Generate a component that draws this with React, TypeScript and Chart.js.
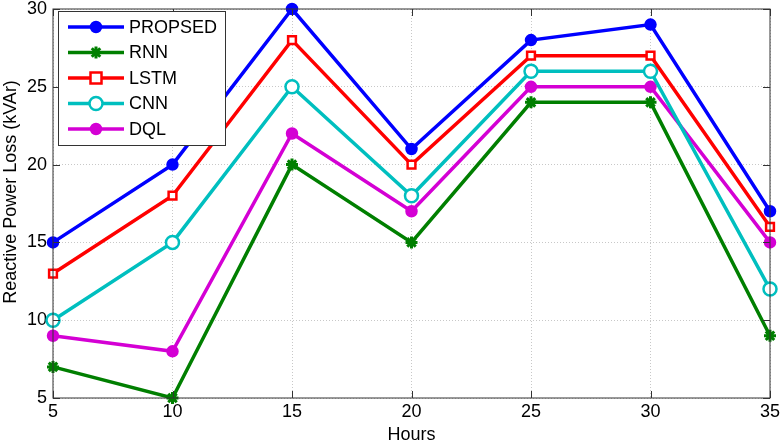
import { useEffect, useRef } from "react";
import { Chart, registerables } from "chart.js";
Chart.register(...registerables);

const hours = [5, 10, 15, 20, 25, 30, 35];
const propsed = [15, 20, 30, 21, 28, 29, 17];
const rnn = [7, 5, 20, 15, 24, 24, 9];
const lstm = [13, 18, 28, 20, 27, 27, 16];
const cnn = [10, 15, 25, 18, 26, 26, 12];
const dql = [9, 8, 22, 17, 25, 25, 15];

const FONT = "'Liberation Sans', Arial, sans-serif";

const series = [
  { label: "PROPSED", data: propsed, color: "#0000ff", style: "circle", fill: "#0000ff", r: 5 },
  { label: "RNN", data: rnn, color: "#007f00", style: "star", fill: "#007f00", r: 6 },
  { label: "LSTM", data: lstm, color: "#ff0000", style: "rect", fill: "#ffffff", r: 5.5 },
  { label: "CNN", data: cnn, color: "#00bfbf", style: "circle", fill: "#ffffff", r: 6.5 },
  { label: "DQL", data: dql, color: "#d400d4", style: "circle", fill: "#d400d4", r: 5 },
];

function marker(ctx: CanvasRenderingContext2D, s: any, x: number, y: number) {
  ctx.save();
  ctx.strokeStyle = s.color;
  ctx.fillStyle = s.fill;
  ctx.lineWidth = 2.5;
  ctx.beginPath();
  if (s.style === "rect") {
    ctx.rect(x - s.r, y - s.r, s.r * 2, s.r * 2);
    ctx.fill();
    ctx.stroke();
  } else if (s.style === "star") {
    for (let i = 0; i < 4; i++) {
      const a = (i * Math.PI) / 4;
      ctx.moveTo(x - Math.cos(a) * s.r, y - Math.sin(a) * s.r);
      ctx.lineTo(x + Math.cos(a) * s.r, y + Math.sin(a) * s.r);
    }
    ctx.lineWidth = 3;
    ctx.stroke();
  } else {
    ctx.arc(x, y, s.r, 0, Math.PI * 2);
    ctx.fill();
    ctx.stroke();
  }
  ctx.restore();
}

const frame = {
  id: "frame",
  afterDatasetsDraw(chart: any) {
    const { ctx, chartArea: a, scales } = chart;
    ctx.save();
    ctx.strokeStyle = "#333";
    ctx.lineWidth = 1;
    ctx.strokeRect(a.left, a.top, a.right - a.left, a.bottom - a.top);
    ctx.beginPath();
    scales.x.ticks.forEach((t: any) => {
      const px = Math.round(scales.x.getPixelForValue(t.value)) + 0.5;
      ctx.moveTo(px, a.bottom); ctx.lineTo(px, a.bottom - 7);
      ctx.moveTo(px, a.top); ctx.lineTo(px, a.top + 7);
    });
    scales.y.ticks.forEach((t: any) => {
      const py = Math.round(scales.y.getPixelForValue(t.value)) + 0.5;
      ctx.moveTo(a.left, py); ctx.lineTo(a.left + 7, py);
      ctx.moveTo(a.right, py); ctx.lineTo(a.right - 7, py);
    });
    ctx.stroke();
    ctx.restore();
  },
  afterDraw(chart: any) {
    const { ctx } = chart;
    // y axis title
    ctx.save();
    ctx.translate(11, 192);
    ctx.rotate(-Math.PI / 2);
    ctx.font = `18px ${FONT}`;
    ctx.fillStyle = "#000";
    ctx.textAlign = "center";
    ctx.textBaseline = "middle";
    ctx.fillText("Reactive Power Loss (kVAr)", 0, 0);
    ctx.restore();
    // legend
    const bx = 58, by = 11, bw = 167, bh = 134;
    ctx.save();
    ctx.fillStyle = "#fff";
    ctx.fillRect(bx, by, bw, bh);
    ctx.strokeStyle = "#333";
    ctx.lineWidth = 1;
    ctx.strokeRect(bx + 0.5, by + 0.5, bw, bh);
    ctx.font = `18px ${FONT}`;
    ctx.textBaseline = "middle";
    series.forEach((s, i) => {
      const y = 27 + i * 25.5;
      ctx.strokeStyle = s.color;
      ctx.lineWidth = 3.5;
      ctx.beginPath();
      ctx.moveTo(68, y); ctx.lineTo(124, y);
      ctx.stroke();
      marker(ctx, s, 96, y);
      ctx.fillStyle = "#000";
      ctx.fillText(s.label, 129, y + 1);
    });
    ctx.restore();
  },
};

export default function App() {
  const ref = useRef<HTMLCanvasElement>(null);
  useEffect(() => {
    document.body.style.margin = "0";
    if (!ref.current) return;
    const chart = new Chart(ref.current, {
      type: "line",
      data: {
        datasets: series.map((s) => ({
          label: s.label,
          data: hours.map((h, i) => ({ x: h, y: s.data[i] })),
          borderColor: s.color,
          backgroundColor: s.fill,
          borderWidth: 3.5,
          pointStyle: s.style as any,
          pointRadius: s.r,
          pointBorderWidth: s.style === "star" ? 3 : 2.5,
          pointBorderColor: s.color,
          pointBackgroundColor: s.fill,
          tension: 0,
          clip: false as any,
        })),
      },
      options: {
        animation: false,
        responsive: false,
        layout: { padding: { top: 9, right: 12, left: 0, bottom: 0 } },
        plugins: { legend: { display: false }, tooltip: { enabled: false } },
        scales: {
          x: {
            type: "linear",
            min: 5,
            max: 35,
            ticks: { stepSize: 5, color: "#000", font: { family: FONT, size: 18 }, padding: 3 },
            grid: { color: "#c8c8c8", drawTicks: false },
            border: { display: false, dash: [1, 2] },
            title: { display: true, text: "Hours", color: "#000", font: { family: FONT, size: 18 }, padding: { top: 0, bottom: -1 } },
            afterFit: (s: any) => { s.height = 47; s.paddingLeft = 0; s.paddingRight = 0; },
          },
          y: {
            min: 5,
            max: 30,
            ticks: { stepSize: 5, color: "#000", font: { family: FONT, size: 18 }, padding: 6 },
            grid: { color: "#c8c8c8", drawTicks: false },
            border: { display: false, dash: [1, 2] },
            afterFit: (s: any) => { s.width = 53; s.paddingTop = 0; s.paddingBottom = 0; },
          },
        },
      },
      plugins: [frame],
    });
    return () => chart.destroy();
  }, []);
  return (
    <div style={{ width: 782, height: 445, background: "#fff" }}>
      <canvas ref={ref} width={782} height={445} style={{ width: 782, height: 445 }} />
    </div>
  );
}
